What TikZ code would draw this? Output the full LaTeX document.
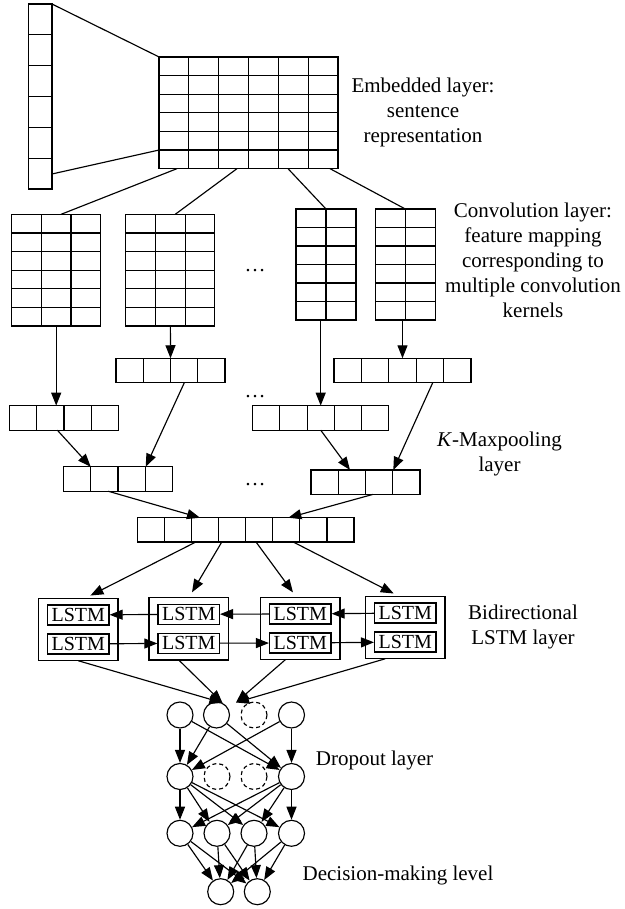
\documentclass[tikz,border=0pt]{standalone}
\usepackage{fontspec}
\setmainfont{Liberation Serif}
\usetikzlibrary{arrows.meta,calc}

\tikzset{
  grid box/.style={draw, inner sep=0pt, outer sep=0pt},
  lstm box/.style={draw, inner sep=0pt, outer sep=0pt, minimum width=79.5pt, minimum height=62.5pt},
  lstm cell/.style={draw, inner sep=0pt, minimum width=61.5pt, minimum height=20pt, font=\fontsize{20}{20}\selectfont},
  neuron/.style={circle, draw, inner sep=0pt, minimum size=26pt},
  dropped/.style={neuron, dash pattern=on 4pt off 3pt},
  layer text/.style={align=center, font=\fontsize{21}{25}\selectfont},
  flow/.style={-{Triangle[length=13pt,width=10pt]}},
}

% inner lines of a grid node: name, columns, rows
\newcommand{\cellgrid}[3]{%
  \ifnum#2>1
    \foreach \i in {2,...,#2}
      \draw ($(#1.north west)!{(\i-1)/#2}!(#1.north east)$) -- ($(#1.south west)!{(\i-1)/#2}!(#1.south east)$);
  \fi
  \ifnum#3>1
    \foreach \j in {2,...,#3}
      \draw ($(#1.north west)!{(\j-1)/#3}!(#1.south west)$) -- ($(#1.north east)!{(\j-1)/#3}!(#1.south east)$);
  \fi
}

\begin{document}
\begin{tikzpicture}[x=1pt, y=-1pt, line width=1.15pt]
  \useasboundingbox (0,0) rectangle (624,909);

  % embedding
  \node[grid box, minimum width=23.3pt, minimum height=185pt] (inp) at (40.3,96.5) {};
  \node[grid box, minimum width=179pt, minimum height=111.7pt] (emb) at (248.5,112.8) {};
  \cellgrid{inp}{1}{6}
  \cellgrid{emb}{6}{6}
  \draw (inp.north east) -- (emb.north west);
  \draw ([yshift=15pt]inp.south east) -- ($(emb.north west)!5/6!(emb.south west)$);

  % convolution
  \node[grid box, minimum width=89pt, minimum height=111.7pt] (map1) at (56.2,270.2) {};
  \node[grid box, minimum width=89pt, minimum height=111.7pt] (map2) at (170.4,270.2) {};
  \node[grid box, minimum width=60pt, minimum height=111pt] (map3) at (326,264.5) {};
  \node[grid box, minimum width=60pt, minimum height=111pt] (map4) at (405.3,264.5) {};
  \cellgrid{map1}{3}{6}
  \cellgrid{map2}{3}{6}
  \cellgrid{map3}{2}{6}
  \cellgrid{map4}{2}{6}
  \node[font=\fontsize{21}{25}\selectfont, anchor=base] (dots1) at (255,271) {…};
  \draw ([xshift=18pt]emb.south west) -- ([xshift=49.3pt]map1.north west);
  \draw ([xshift=78pt]emb.south west) -- ([xshift=49.3pt]map2.north west);
  \draw ([xshift=129pt]emb.south west) -- (map3.north);
  \draw ([xshift=171pt]emb.south west) -- (map4.north);

  % pooling
  \node[grid box, minimum width=109pt, minimum height=24.5pt] (pool1a) at (170.5,370.5) {};
  \node[grid box, minimum width=137pt, minimum height=24.5pt] (pool1b) at (402.5,370.5) {};
  \node[grid box, minimum width=109.4pt, minimum height=24.5pt] (pool2a) at (64,417.9) {};
  \node[grid box, minimum width=136pt, minimum height=24.5pt] (pool2b) at (320.7,417.9) {};
  \node[grid box, minimum width=108.6pt, minimum height=24.5pt] (pool3a) at (118,479) {};
  \node[grid box, minimum width=109pt, minimum height=24.5pt] (pool3b) at (365.5,482.2) {};
  \node[grid box, minimum width=216.7pt, minimum height=24.3pt] (concat) at (245.7,529.9) {};
  \cellgrid{pool1a}{4}{1}
  \cellgrid{pool1b}{5}{1}
  \cellgrid{pool2a}{4}{1}
  \cellgrid{pool2b}{5}{1}
  \cellgrid{pool3a}{4}{1}
  \cellgrid{pool3b}{4}{1}
  \cellgrid{concat}{8}{1}
  \node[font=\fontsize{21}{25}\selectfont, anchor=base] (dots2) at (255,397) {…};
  \node[font=\fontsize{21}{25}\selectfont, anchor=base] (dots3) at (255,485) {…};
  \draw[flow] (map1.south) -- (map1.south |- pool2a.north);
  \draw[flow] (map2.south) -- (pool1a.north);
  \draw[flow] (pool2b.north |- map3.south) -- (pool2b.north);
  \draw[flow] (pool1b.north |- map4.south) -- (pool1b.north);
  \draw[flow] ([xshift=48pt]pool2a.south west) -- ([xshift=27pt]pool3a.north west);
  \draw[flow] ([xshift=68.3pt]pool1a.south west) -- ([xshift=82pt]pool3a.north west);
  \draw[flow] (pool2b.south) -- ([xshift=39pt]pool3b.north west);
  \draw[flow] ([xshift=98.7pt]pool1b.south west) -- ([xshift=82.3pt]pool3b.north west);
  \draw[flow] ([xshift=44.6pt]pool3a.south west) -- ([xshift=62.7pt]concat.north west);
  \draw[flow] ([xshift=61.7pt]pool3b.south west) -- ([xshift=151pt]concat.north west);

  % bidirectional LSTM
  \node[lstm box] (lstm1) at (78.3,629.5) {};
  \node[lstm box] (lstm2) at (188.7,628.7) {};
  \node[lstm box] (lstm3) at (300.3,628.5) {};
  \node[lstm box] (lstm4) at (405.3,627.5) {};
  \node[lstm cell] (fw1) at ([yshift=-14.5pt]lstm1.center) {LSTM};
  \node[lstm cell] (fw2) at ([yshift=-14.5pt]lstm2.center) {LSTM};
  \node[lstm cell] (fw3) at ([yshift=-14.5pt]lstm3.center) {LSTM};
  \node[lstm cell] (fw4) at ([yshift=-14.5pt]lstm4.center) {LSTM};
  \node[lstm cell] (bw1) at ([yshift=14.5pt]lstm1.center) {LSTM};
  \node[lstm cell] (bw2) at ([yshift=14.5pt]lstm2.center) {LSTM};
  \node[lstm cell] (bw3) at ([yshift=14.5pt]lstm3.center) {LSTM};
  \node[lstm cell] (bw4) at ([yshift=14.5pt]lstm4.center) {LSTM};
  \draw[flow] (bw2) -- (bw1);
  \draw[flow] (bw3) -- (bw2);
  \draw[flow] (bw4) -- (bw3);
  \draw[flow] (fw1) -- (fw2);
  \draw[flow] (fw2) -- (fw3);
  \draw[flow] (fw3) -- (fw4);
  \draw[flow, shorten >=6pt] ([xshift=58.4pt]concat.south west) -- ([xshift=46.5pt]lstm1.north west);
  \draw[flow, shorten >=6pt] ([xshift=84.4pt]concat.south west) -- ([xshift=40pt]lstm2.north west);
  \draw[flow, shorten >=6pt] ([xshift=118.7pt]concat.south west) -- ([xshift=36pt]lstm3.north west);
  \draw[flow, shorten >=6pt] ([xshift=156pt]concat.south west) -- ([xshift=33.5pt]lstm4.north west);

  % dropout and decision
  \node[neuron] (h1) at (180,715) {};
  \node[neuron] (h2) at (216.5,715) {};
  \node[dropped] (h3) at (254,715) {};
  \node[neuron] (h4) at (291.5,715) {};
  \node[neuron] (d1) at (180,776.5) {};
  \node[dropped] (d2) at (217,776.5) {};
  \node[dropped] (d3) at (254,776.5) {};
  \node[neuron] (d4) at (291.5,776.5) {};
  \node[neuron] (r1) at (180,833.3) {};
  \node[neuron] (r2) at (217,833.3) {};
  \node[neuron] (r3) at (254,833.3) {};
  \node[neuron] (r4) at (291.5,833.3) {};
  \node[neuron] (o1) at (220.7,891.7) {};
  \node[neuron] (o2) at (257.3,891.7) {};
  \coordinate (join) at (236,702.5);
  \draw[flow] (lstm1.south) -- (h2.64);
  \draw[flow] ([xshift=-10pt]lstm2.south) -- (h2.64);
  \draw[flow] ([xshift=-15pt]lstm3.south) -- (join);
  \draw[flow] ([xshift=-20pt]lstm4.south) -- (join);
  \foreach \s in {h1,h2,h4}
    \foreach \t in {d1,d4}
      \draw[flow] (\s) -- (\t);
  \foreach \s in {d1,d4}
    \foreach \t in {r1,r2,r3,r4}
      \draw[flow] (\s) -- (\t);
  \foreach \s in {r1,r2,r3,r4}
    \foreach \t in {o1,o2}
      \draw[flow] (\s) -- (\t);

  % layer labels
  \node[layer text] (embtext) at (423,112) {Embedded layer:\\sentence\\representation};
  \node[layer text] (convtext) at (533,260) {Convolution layer:\\feature mapping\\corresponding to\\multiple convolution\\kernels};
  \node[layer text] (pooltext) at (499.5,453.7) {\textit{K}-Maxpooling\\layer};
  \node[layer text] (lstmtext) at (523,626.5) {Bidirectional\\LSTM layer};
  \node[layer text, anchor=base] (droptext) at (374.5,765) {Dropout layer};
  \node[layer text, anchor=base] (dectext) at (398,880) {Decision-making level};
\end{tikzpicture}
\end{document}
